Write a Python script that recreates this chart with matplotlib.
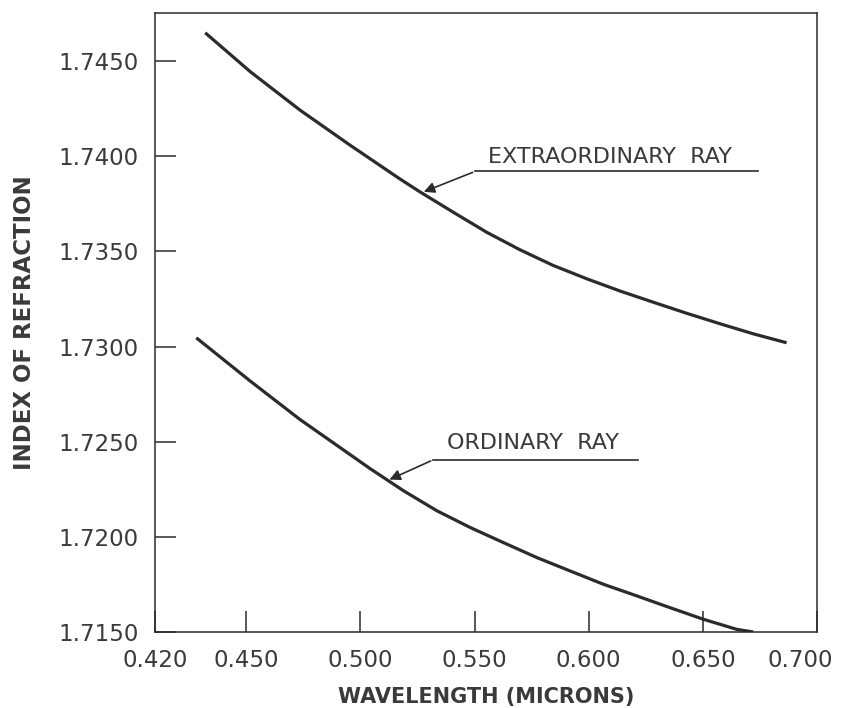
import matplotlib
matplotlib.use('Agg')
import matplotlib.pyplot as plt
import matplotlib.transforms as mtransforms

# 屈折率の波長依存 (常光線・異常光線)
# 波長 (microns) と屈折率を図から読み取り
extra_wl = [0.4320, 0.4518, 0.4736, 0.4955, 0.5174, 0.5262, 0.5408, 0.5554, 0.5700, 0.5845,
            0.5992, 0.6137, 0.6283, 0.6429, 0.6575, 0.6721, 0.6867]
extra_n = [1.74649, 1.74444, 1.74242, 1.74058, 1.73880, 1.73812, 1.73705, 1.73600, 1.73508, 1.73426,
           1.73356, 1.73292, 1.73233, 1.73175, 1.73120, 1.73067, 1.73020]

ord_wl = [0.4281, 0.4518, 0.4736, 0.4955, 0.5043, 0.5189, 0.5335, 0.5481, 0.5626, 0.5773,
          0.5918, 0.6064, 0.6210, 0.6356, 0.6502, 0.6648, 0.6721]
ord_n = [1.73046, 1.72818, 1.72616, 1.72432, 1.72358, 1.72242, 1.72137, 1.72049, 1.71970, 1.71891,
         1.71821, 1.71751, 1.71690, 1.71628, 1.71567, 1.71514, 1.71500]

# 軸目盛 (元図では 0.420 のラベルが左端の枠線上にある)
x_ticks = [0.410, 0.450, 0.500, 0.550, 0.600, 0.650, 0.700]
x_tick_labels = ['0.420', '0.450', '0.500', '0.550', '0.600', '0.650', '0.700']
y_ticks = [1.7150, 1.7200, 1.7250, 1.7300, 1.7350, 1.7400, 1.7450]
y_tick_labels = ['1.7150', '1.7200', '1.7250', '1.7300', '1.7350', '1.7400', '1.7450']

ink = '#2b2b2b'
text_c = '#3a3a3a'

plt.rcParams['font.family'] = ['DejaVu Sans']

fig = plt.figure(figsize=(8.46, 7.08), dpi=100)
ax = fig.add_axes([155 / 846, 76 / 708, 662 / 846, 619 / 708])

ax.plot(extra_wl, extra_n, color=ink, lw=2.3, solid_capstyle='butt')
ax.plot(ord_wl, ord_n, color=ink, lw=2.3, solid_capstyle='butt')

ax.set_xlim(0.410, 0.700)
ax.set_ylim(1.7150, 1.74753)

ax.set_xticks(x_ticks)
ax.set_xticklabels(x_tick_labels)
ax.set_yticks(y_ticks)
ax.set_yticklabels(y_tick_labels)
ax.tick_params(direction='in', length=15, width=1.1, colors=ink, labelcolor=text_c, labelsize=16.5)
ax.tick_params(axis='x', pad=12)
ax.tick_params(axis='y', pad=12)

# 右端のラベルは少し左に寄せる
last = ax.get_xticklabels()[-1]
last.set_transform(last.get_transform() + mtransforms.ScaledTranslation(-12 / 72, 0, fig.dpi_scale_trans))

for sp in ax.spines.values():
    sp.set_color(ink)
    sp.set_linewidth(1.1)

ax.set_xlabel('WAVELENGTH (MICRONS)', fontsize=15, fontweight='bold', color=text_c, labelpad=11)
ax.set_ylabel('INDEX OF REFRACTION', fontsize=16.5, fontweight='bold', color=text_c, labelpad=16)

# 注記 (矢印 + 下線)
arrow_style = dict(arrowstyle='-|>', color=ink, lw=1.2, mutation_scale=16)
ax.annotate('', xy=(0.5266, 1.73808), xytext=(0.5503, 1.73921), arrowprops=arrow_style)
ax.plot([0.5503, 0.6741], [1.73921, 1.73921], color=ink, lw=1.2)
ax.text(0.5559, 1.73995, 'EXTRAORDINARY  RAY', fontsize=16, color=text_c, va='center', ha='left')

ax.annotate('', xy=(0.5116, 1.72295), xytext=(0.5319, 1.72405), arrowprops=arrow_style)
ax.plot([0.5319, 0.6216], [1.72405, 1.72405], color=ink, lw=1.2)
ax.text(0.5380, 1.72495, 'ORDINARY  RAY', fontsize=16, color=text_c, va='center', ha='left')

fig.savefig('out.png', dpi=100)
